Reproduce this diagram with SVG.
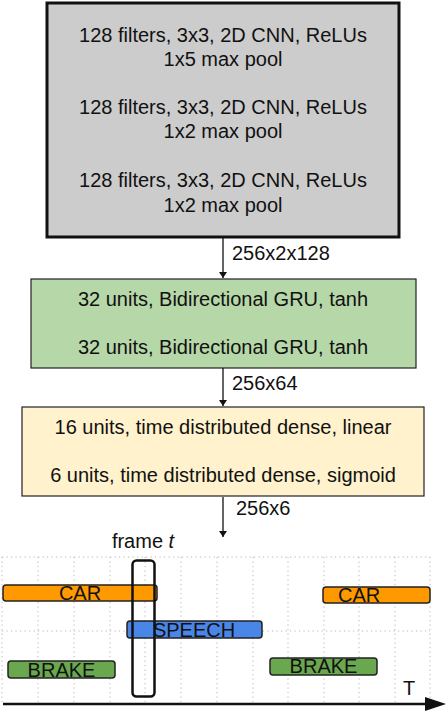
<svg xmlns="http://www.w3.org/2000/svg" width="447" height="712" viewBox="0 0 447 712">
<defs>
<style>
text{font-family:"Liberation Sans",Arial,sans-serif;font-size:20px;fill:#111;}
.c{text-anchor:middle;}
.bar{stroke:#222;stroke-width:1.5;}
.grid{stroke:#b5b5b5;stroke-width:1;stroke-dasharray:1.2 3.3;fill:none;}
.conn{stroke:#111;stroke-width:1.3;fill:none;}
</style>
<marker id="ah" viewBox="0 0 10 10" refX="10" refY="5" markerWidth="6" markerHeight="8" markerUnits="userSpaceOnUse" orient="auto" preserveAspectRatio="none">
<path d="M0,0 L10,5 L0,10 z" fill="#111"/>
</marker>
</defs>
<rect width="447" height="712" fill="#fff"/>

<g id="cnn">
<rect x="47" y="3" width="352" height="234" fill="#cccccc" stroke="#111" stroke-width="3"/>
<text class="c" x="223" y="42">128 filters, 3x3, 2D CNN, ReLUs</text>
<text class="c" x="223" y="66">1x5 max pool</text>
<text class="c" x="223" y="114">128 filters, 3x3, 2D CNN, ReLUs</text>
<text class="c" x="223" y="138">1x2 max pool</text>
<text class="c" x="223" y="187">128 filters, 3x3, 2D CNN, ReLUs</text>
<text class="c" x="223" y="212">1x2 max pool</text>
</g>

<g id="gru">
<rect x="31" y="279" width="385" height="89" fill="#b6d7a8" stroke="#222" stroke-width="1.2"/>
<text class="c" x="223" y="306">32 units, Bidirectional GRU, tanh</text>
<text class="c" x="223" y="354">32 units, Bidirectional GRU, tanh</text>
</g>

<g id="dense">
<rect x="22" y="407" width="402" height="89" fill="#fff2cc" stroke="#222" stroke-width="1.2"/>
<text class="c" x="223" y="434">16 units, time distributed dense, linear</text>
<text class="c" x="223" y="482">6 units, time distributed dense, sigmoid</text>
</g>

<g id="connectors">
<line class="conn" x1="223" y1="238" x2="223" y2="278" marker-end="url(#ah)"/>
<line class="conn" x1="223" y1="368" x2="223" y2="406" marker-end="url(#ah)"/>
<line class="conn" x1="223" y1="497" x2="223" y2="537" marker-end="url(#ah)"/>
<text x="232" y="260">256x2x128</text>
<text x="232" y="390">256x64</text>
<text x="236" y="515">256x6</text>
</g>

<g id="timeline">
<g class="grid">
<line x1="2" y1="557" x2="430" y2="557"/>
<line x1="2" y1="631" x2="430" y2="631"/>
<line x1="2" y1="557" x2="2" y2="702"/>
<line x1="38" y1="557" x2="38" y2="702"/>
<line x1="74" y1="557" x2="74" y2="702"/>
<line x1="110" y1="557" x2="110" y2="702"/>
<line x1="145" y1="557" x2="145" y2="702"/>
<line x1="181" y1="557" x2="181" y2="702"/>
<line x1="217" y1="557" x2="217" y2="702"/>
<line x1="253" y1="557" x2="253" y2="702"/>
<line x1="288" y1="557" x2="288" y2="702"/>
<line x1="324" y1="557" x2="324" y2="702"/>
<line x1="359" y1="557" x2="359" y2="702"/>
<line x1="395" y1="557" x2="395" y2="702"/>
<line x1="430" y1="557" x2="430" y2="702"/>
</g>
<g id="car1"><rect class="bar" x="3" y="585" width="154" height="16" rx="3" fill="#ff9900"/><text class="c" x="80" y="600">CAR</text></g>
<g id="car2"><rect class="bar" x="323" y="587" width="107" height="16" rx="3" fill="#ff9900"/><text x="338" y="601.5">CAR</text></g>
<g id="speech"><rect class="bar" x="127" y="621" width="135" height="17" rx="3" fill="#4a86e8"/><text class="c" x="194" y="636.5">SPEECH</text></g>
<g id="brake1"><rect class="bar" x="8" y="661" width="107" height="17" rx="3" fill="#6aa84f"/><text class="c" x="61.5" y="676.5">BRAKE</text></g>
<g id="brake2"><rect class="bar" x="270" y="658" width="107" height="17" rx="3" fill="#6aa84f"/><text class="c" x="323.5" y="673">BRAKE</text></g>
<g id="frame"><rect x="132.5" y="560.5" width="22" height="136" rx="4" fill="none" stroke="#111" stroke-width="2.5"/>
<text class="c" x="143" y="548">frame <tspan font-style="italic">t</tspan></text></g>
<g id="axis">
<line x1="3" y1="704" x2="427" y2="704" stroke="#111" stroke-width="2.5"/>
<polygon points="446,704 425,697 425,711" fill="#111"/>
<text x="403" y="695">T</text>
</g>
</g>
</svg>
